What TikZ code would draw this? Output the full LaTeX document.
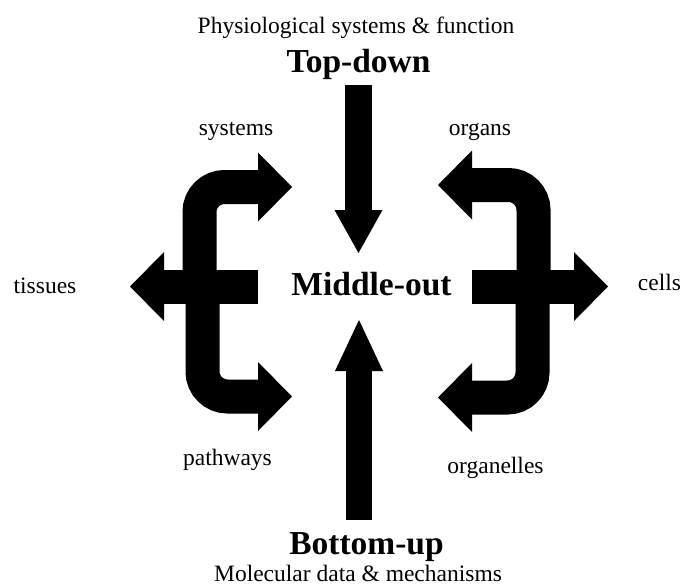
\documentclass[tikz,border=0pt]{standalone}
\usepackage{fontspec}
\setmainfont{Liberation Serif}
\usetikzlibrary{arrows.meta}

\begin{document}
\begin{tikzpicture}[
  x=1pt, y=-1pt,
  tag/.style={font=\fontsize{23.5}{26}\selectfont, anchor=base, inner sep=0pt},
  stage/.style={font=\fontsize{33.5}{38}\selectfont\bfseries, anchor=base, inner sep=0pt},
  forkarrow/.style={line width=34pt, rounded corners=25pt, -{Triangle[length=34pt, width=69pt, line width=0pt]}},
  shaft/.style={line width=26.5pt, -{Triangle[length=#1, width=48pt, line width=0pt]}}
]
\useasboundingbox (0,0) rectangle (684,587);

% levels of description
\node[tag] (physio) at (356,33) {Physiological systems \& function};
\node[stage] (topdown) at (358.5,72) {Top-down};
\node[stage] (middle) at (371.5,295) {Middle-out};
\node[stage] (bottomup) at (366.5,554) {Bottom-up};
\node[tag] (molec) at (358,581) {Molecular data \& mechanisms};

% outward labels
\node[tag] (tissues) at (45,293) {tissues};
\node[tag] (cells) at (659.5,290) {cells};
\node[tag] (systems) at (236,135) {systems};
\node[tag] (organs) at (480,135) {organs};
\node[tag] (pathways) at (227.5,465) {pathways};
\node[tag] (organelles) at (495.5,473) {organelles};

% vertical arrows
\draw[shaft=43pt] (358.5,85) -- (358.5,253);
\draw[shaft=51pt] (359,520) -- (359,320);

% left fork
\draw[forkarrow] (258,286.5) -- (130,286.5);
\draw[forkarrow] (199.5,286.5) -- (199.5,187) -- (292,187);
\draw[forkarrow] (202.5,286.5) -- (202.5,396.5) -- (292,396.5);

% right fork
\draw[forkarrow] (472,286.5) -- (608,286.5);
\draw[forkarrow] (533.5,286.5) -- (533.5,185) -- (438,185);
\draw[forkarrow] (532.5,286.5) -- (532.5,397.5) -- (438,397.5);
\end{tikzpicture}
\end{document}
